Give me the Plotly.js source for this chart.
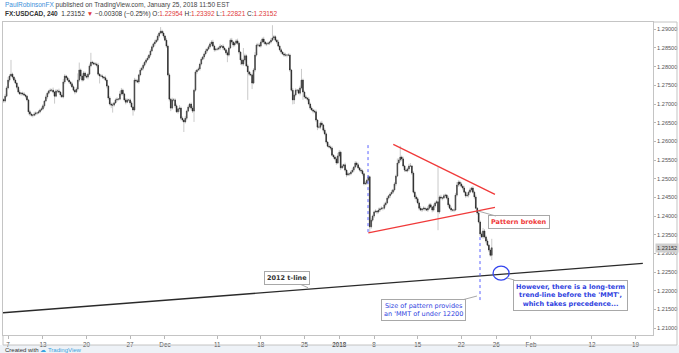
<!DOCTYPE html>
<html><head><meta charset="utf-8">
<script src="https://cdn.plot.ly/plotly-3.0.1.min.js"></script>
<style>html,body{margin:0;padding:0;background:#fff;}#chart{width:679px;height:353px;}</style>
</head><body><div id="chart"></div>
<script>
// USDCAD 4H closes, in units of 0.0001 (Nov 6 2017 12:00 -> Jan 25 2018 12:00)
const closes = [
 12708,12721,12743,12764,12775,12780,12772,12764,12756,12745,12732,12727,12729,12727,12724,12721,12711,12679,12673,12670,12670,12673,12676,12676,12679,12684,12687,
 12695,12708,12719,12729,12735,12737,12737,12732,12721,12735,12735,12732,12724,12719,12759,12775,12770,12764,12759,12754,12746,12737,12732,12740,12764,12791,12775,12764,12783,12775,
 12772,12780,12802,12812,12810,12807,12807,12804,12780,12775,12775,12772,12770,12764,12748,12716,12700,12697,12697,12703,12711,12713,12713,12727,12737,12727,12711,12705,12711,12711,
 12703,12692,12684,12764,12762,12759,12778,12791,12796,12804,12812,12818,12823,12831,12842,12853,12861,12866,12871,12882,12890,12895,12890,12882,12871,12855,12778,12713,12689,12711,
 12711,12695,12679,12687,12689,12662,12657,12652,12662,12681,12692,12700,12689,12681,12737,12786,12791,12794,12807,12820,12826,12834,12842,12847,12853,12861,12866,12855,12845,12847,
 12847,12850,12855,12855,12850,12845,12837,12831,12850,12871,12866,12858,12863,12869,12863,12839,12818,12807,12818,12829,12802,12786,12780,12778,12756,12791,12831,12858,12858,12855,
 12866,12874,12866,12861,12861,12863,12866,12871,12877,12880,12871,12866,12855,12845,12839,12834,12831,12831,12831,12831,12791,12737,12711,12724,12737,12737,12729,12743,12764,12732,
 12719,12716,12713,12700,12689,12684,12681,12679,12657,12638,12638,12649,12644,12630,12620,12598,12587,12585,12582,12563,12558,12553,12542,12561,
 12571,12529,12534,12537,12523,12510,12513,12513,12518,12523,12531,12542,12537,12529,12523,12521,12513,12486,12488,12496,12505,12371,12389,12400,
 12411,12413,12411,12416,12419,12421,12421,12430,12435,12448,12454,12459,12464,12470,12486,12507,12542,12550,12558,12553,12534,12523,12521,12526,12534,12534,12515,12464,12451,12446,
 12435,12421,12416,12419,12421,12419,12416,12421,12430,12424,12416,12427,12435,12438,12411,12451,12448,12448,12454,12456,12448,12430,12421,12416,12416,12416,12456,12483,12491,12486,
 12480,12475,12464,12454,12456,12464,12470,12475,12464,12451,12421,12408,12384,12352,12344,12360,12344,12333,12322,12309,12295,12315
];
const firstOpen = 12712;
// wick lengths above / below the body, in units of 0.0001
const upWick = [
 4,6,5,8,5,38,4,3,5,3,4,6,3,4,5,3,4,3,5,4,3,6,4,3,5,4,6,
 5,3,6,4,3,5,4,7,3,5,4,6,3,4,8,5,3,4,5,3,6,4,3,5,18,20,4,6,5,4,
 5,4,6,25,4,3,5,4,6,3,5,4,3,6,4,3,5,4,6,3,4,5,3,8,6,4,3,5,4,3,
 4,5,3,6,4,5,3,6,4,5,3,4,6,3,5,4,3,6,4,5,3,11,4,5,3,6,4,5,3,6,
 5,4,6,3,8,4,5,3,6,4,5,3,4,6,4,5,3,6,4,5,3,4,6,3,5,4,5,6,4,3,
 5,4,6,3,5,4,3,6,4,5,6,3,4,5,6,4,3,5,32,6,4,5,3,6,4,5,8,4,6,5,
 5,4,6,3,5,4,3,6,34,5,4,3,6,4,5,3,4,6,3,5,4,3,6,4,5,3,4,6,30,4,
 4,5,3,6,4,5,3,4,6,3,5,4,6,3,5,4,3,6,4,5,3,4,6,8,
 6,4,5,3,6,4,5,3,4,6,3,5,4,6,3,5,4,3,6,4,5,3,6,4,
 4,5,3,6,4,5,3,6,4,5,3,4,6,3,5,4,12,5,30,4,6,3,5,4,6,8,3,5,4,6,
 5,4,6,3,5,4,3,6,4,5,3,6,4,5,93,4,6,3,5,4,3,6,4,5,3,4,6,8,5,4,
 5,4,6,3,5,4,6,3,5,4,6,3,5,4,6,8,5,4,6,3,5,24
];
const downWick = [
 5,4,3,4,6,3,5,4,3,6,4,3,5,4,3,6,4,7,5,4,6,3,4,5,3,4,3,
 4,5,3,6,4,3,5,4,20,3,5,4,6,3,4,5,6,3,4,5,3,4,6,3,4,5,8,4,3,5,
 4,6,3,4,5,3,4,6,4,20,3,5,4,3,6,5,4,8,20,4,3,5,4,3,4,5,4,6,3,4,
 5,3,15,4,6,3,5,4,3,6,4,5,3,4,5,3,4,6,3,4,5,3,4,6,3,5,4,6,8,4,
 4,6,3,5,8,6,5,27,4,5,3,4,6,5,29,4,6,3,5,4,3,6,4,5,3,4,6,3,5,4,
 4,3,5,4,6,3,5,19,4,3,5,6,4,3,5,6,13,4,5,4,3,75,5,4,16,3,5,4,6,3,
 4,3,5,4,6,3,5,4,3,6,4,5,3,4,6,3,5,4,6,3,5,4,12,11,4,5,3,6,4,21,
 5,3,6,4,5,3,6,4,5,8,4,5,3,6,4,5,3,4,6,3,5,4,5,3,
 4,6,3,5,4,6,3,5,4,3,6,4,5,3,4,6,5,4,3,5,4,16,5,4,
 5,3,6,4,5,3,6,4,5,3,4,6,3,5,4,6,3,4,5,6,4,5,3,4,6,3,5,4,6,8,
 4,6,3,5,4,6,3,5,4,3,6,4,5,3,49,5,4,6,3,5,4,6,3,5,4,6,3,4,5,6,
 4,6,3,5,4,6,3,5,4,6,3,5,4,6,3,5,4,6,3,5,4,13
];
const tickDates  = ['2017-11-07','2017-11-13','2017-11-20','2017-11-27','2017-12-01','2017-12-11','2017-12-18','2017-12-26','2018-01-02','2018-01-08','2018-01-15','2018-01-22','2018-01-26','2018-02-01','2018-02-12','2018-02-19'];
const tickLabels = ['7','13','20','27','Dec','11','18','25','<b>2018</b>','8','15','22','26','Feb','12','19'];
const holidays = ['2017-12-25','2018-01-01'];
const lastPrice = 1.23152;

// ---- build candle times (4H bars, weekdays only) ----
const pad = n => String(n).padStart(2,'0');
const fmt = d => d.getUTCFullYear()+'-'+pad(d.getUTCMonth()+1)+'-'+pad(d.getUTCDate())+' '+pad(d.getUTCHours())+':00';
const times = [];
let t = Date.UTC(2017,10,6,12);
while (times.length < closes.length) {
  const d = new Date(t), wd = d.getUTCDay(), s = fmt(d);
  if (wd !== 0 && wd !== 6 && !holidays.includes(s.slice(0,10))) times.push(s);
  t += 4*3600e3;
}
const S = 1e-4;
const close = closes.map(v => v*S);
const open = [firstOpen*S].concat(close.slice(0,-1));
const bodyHi = close.map((c,i) => Math.max(c, open[i]));
const bodyLo = close.map((c,i) => Math.min(c, open[i]));
const high = bodyHi.map((v,i) => v + upWick[i]*S);
const low  = bodyLo.map((v,i) => v - downWick[i]*S);

const wickCol = '#bdbdbd';
const traces = [
  {type:'candlestick', x:times, open, high, low, close, whiskerwidth:0, hoverinfo:'skip',
   increasing:{line:{color:wickCol,width:0.8},fillcolor:wickCol},
   decreasing:{line:{color:wickCol,width:0.8},fillcolor:wickCol}},
  {type:'candlestick', x:times, open, high:bodyHi, low:bodyLo, close, whiskerwidth:0, hoverinfo:'skip',
   increasing:{line:{color:'#3c3c3c',width:0.5},fillcolor:'#3c3c3c'},
   decreasing:{line:{color:'#1e1e1e',width:0.5},fillcolor:'#1e1e1e'}}
];

const F = 'Liberation Sans, Arial, sans-serif';
const blue = '#2f3fe0', red = '#f03a3a', box = '#a8a8a8';
const ann = (x,y,ax,ay,text,color) => ({x, y, xref:'x', yref:'y', ax, ay, text, showarrow:true, arrowhead:0,
  arrowwidth:1, arrowcolor:box, standoff:0, bgcolor:'#ffffff', bordercolor:box, borderwidth:1, borderpad:2,
  font:{family:'DejaVu Sans, sans-serif', size:6.5, color}, align:'center'});

const layout = {
  width:679, height:353, margin:{l:3, r:26, t:22, b:18},
  paper_bgcolor:'#ffffff', plot_bgcolor:'#ffffff', showlegend:false,
  xaxis:{type:'date', range:['2017-11-06 10:00','2018-02-21 00:00'],
    rangebreaks:[{bounds:['sat','mon']},{values:holidays}],
    tickvals:tickDates, ticktext:tickLabels, ticks:'outside', ticklen:3, tickcolor:'#b8b8b8',
    tickfont:{family:F, size:6.3, color:'#555'}, showgrid:false, zeroline:false,
    showline:true, linecolor:'#c4c4c4', mirror:true, rangeslider:{visible:false}, fixedrange:true},
  yaxis:{side:'right', range:[1.20814,1.29196], tick0:1.2, dtick:0.005, tickformat:'.5f',
    ticks:'outside', ticklen:2, tickcolor:'#b8b8b8', tickfont:{family:F, size:5.6, color:'#555'},
    showgrid:false, zeroline:false, showline:true, linecolor:'#c4c4c4', mirror:true, fixedrange:true},
  shapes:[
    // footer band
    {type:'rect', xref:'paper', yref:'paper', x0:-0.01, x1:1.05, y0:-0.032, y1:-0.07, fillcolor:'#eef2f7', line:{width:0}, layer:'below'},
    // outer frame of axis panels
    {type:'line', xref:'paper', yref:'paper', x0:1.0369, x1:1.0369, y0:-0.032, y1:1, line:{color:'#c4c4c4', width:1}},
    {type:'line', xref:'paper', yref:'paper', x0:0, x1:1.0369, y0:-0.032, y1:-0.032, line:{color:'#c4c4c4', width:1}},
    {type:'line', xref:'paper', yref:'paper', x0:0, x1:0, y0:-0.032, y1:0, line:{color:'#c4c4c4', width:1}},
    {type:'line', xref:'paper', yref:'paper', x0:1, x1:1.0369, y0:1, y1:1, line:{color:'#c4c4c4', width:1}},
    // 2012 trend-line
    {type:'line', xref:'x', yref:'y', x0:'2017-11-06 10:00', y0:1.2141, x1:'2018-02-19 20:00', y1:1.2273, line:{color:'#2a2a2a', width:1.3}},
    // triangle
    {type:'line', xref:'x', yref:'y', x0:'2018-01-10 04:48', y0:1.2592, x1:'2018-01-25 20:48', y1:1.2458, line:{color:red, width:1.3}},
    {type:'line', xref:'x', yref:'y', x0:'2018-01-05 08:00', y0:1.2355, x1:'2018-01-25 20:48', y1:1.2423, line:{color:red, width:1.3}},
    // measured move dotted lines
    {type:'line', xref:'x', yref:'y', x0:'2018-01-05 07:12', x1:'2018-01-05 07:12', y0:1.2357, y1:1.2596, line:{color:'#5a63ff', width:1, dash:'dot'}},
    {type:'line', xref:'x', yref:'y', x0:'2018-01-24 03:36', x1:'2018-01-24 03:36', y0:1.2175, y1:1.2344, line:{color:'#5a63ff', width:1, dash:'dot'}},
    // circle
    {type:'circle', xref:'x', yref:'y', xsizemode:'pixel', ysizemode:'pixel', xanchor:'2018-01-26 13:36', yanchor:1.2247,
     x0:-8, x1:8, y0:-7, y1:7, line:{color:'#3344ee', width:1.3}}
  ],
  annotations:[
    {xref:'paper', yref:'paper', x:0, y:1.054, xanchor:'left', yanchor:'middle', showarrow:false,
     text:"<span style='color:#3d8fd9'>PaulRobinsonFX</span> published on TradingView.com, January 25, 2018 11:50 EST",
     font:{family:F, size:6.5, color:'#444'}},
    {xref:'paper', yref:'paper', x:0, y:1.0256, xanchor:'left', yanchor:'middle', showarrow:false,
     text:"<b>FX:USDCAD, 240</b>  1.23152 <span style='color:#e03a3a'>▼</span> −0.00308 (−0.25%) O:<span style='color:#e03a3a'>1.22954</span> H:<span style='color:#e03a3a'>1.23392</span> L:<span style='color:#e03a3a'>1.22821</span> C:<span style='color:#e03a3a'>1.23152</span>",
     font:{family:F, size:6.5, color:'#333'}},
    {xref:'paper', yref:'y', x:1.003, y:lastPrice, xanchor:'left', yanchor:'middle', showarrow:false,
     text:lastPrice.toFixed(5), bgcolor:'#cfcfcf', borderpad:1, font:{family:F, size:5.6, color:'#333'}},
    {xref:'paper', yref:'paper', x:0, y:-0.0495, xanchor:'left', yanchor:'middle', showarrow:false,
     text:"Created with <span style='color:#3aa3e0'>☁ TradingView</span>", font:{family:F, size:6, color:'#333'}},
    ann('2017-12-26 10:00', 1.2208, -21.5, -9.7, '<b>2012 t-line</b>', '#333'),
    ann('2018-01-23 22:00', 1.24135, 41, 11.5, '<b>Pattern broken</b>', red),
    ann('2018-01-23 19:12', 1.21858, -53, 14, 'Size of pattern provides<br>an \'MMT of under 12200', blue),
    ann('2018-01-29 06:00', 1.2234, 63, 17, '<b>However, there is a long-term<br>trend-line before the \'MMT\',<br>which takes precedence...</b>', blue)
  ]
};
Plotly.newPlot('chart', traces, layout, {staticPlot:true, displayModeBar:false});
</script></body></html>
